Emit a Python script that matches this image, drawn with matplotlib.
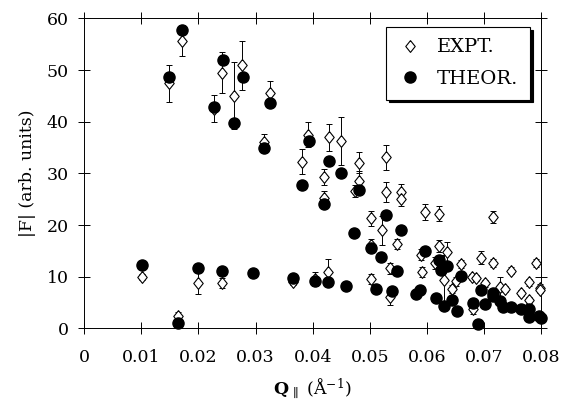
import matplotlib.pyplot as plt
import numpy as np

# experimental points: Q, |F|, error
expt_q = [0.0101, 0.0164, 0.0200, 0.0241, 0.0149, 0.0172, 0.0227, 0.0242, 0.0263, 0.0277,
          0.0315, 0.0326, 0.0366, 0.0382, 0.0392, 0.0404, 0.0420, 0.0420, 0.0427, 0.0428,
          0.0449, 0.0474, 0.0481, 0.0481, 0.0502, 0.0502, 0.0502, 0.0521, 0.0528, 0.0528,
          0.0536, 0.0536, 0.0547, 0.0555, 0.0555, 0.0590, 0.0591, 0.0596, 0.0614, 0.0621,
          0.0621, 0.0629, 0.0635, 0.0644, 0.0650, 0.0659, 0.0678, 0.0680, 0.0686, 0.0694,
          0.0702, 0.0715, 0.0715, 0.0727, 0.0736, 0.0746, 0.0765, 0.0778, 0.0778, 0.0791,
          0.0798, 0.0798]
expt_f = [10.0, 2.4, 8.8, 8.8, 47.4, 55.7, 42.5, 49.5, 45.0, 50.9,
          36.0, 45.6, 8.9, 32.3, 37.5, 9.6, 29.3, 25.3, 10.9, 37.0,
          36.3, 26.6, 32.1, 28.6, 21.3, 16.2, 9.6, 19.0, 33.1, 26.4,
          11.6, 6.1, 16.4, 26.4, 25.1, 14.3, 10.9, 22.5, 12.7, 22.2,
          16.0, 9.3, 14.7, 7.6, 9.1, 12.5, 10.0, 3.7, 9.8, 13.7,
          8.7, 21.6, 12.7, 8.0, 7.6, 11.2, 6.8, 8.9, 5.5, 12.7,
          7.8, 7.4]
expt_err = [0.6, 0.8, 2.2, 1.0, 3.6, 3.0, 2.6, 4.0, 6.5, 4.7,
            1.7, 2.3, 0.5, 2.4, 2.4, 1.4, 1.5, 1.2, 2.5, 2.6,
            4.6, 1.2, 2.0, 1.8, 1.5, 1.2, 1.0, 2.8, 2.4, 2.0,
            1.0, 1.5, 1.0, 1.5, 1.5, 1.0, 1.0, 1.5, 1.2, 1.5,
            1.2, 5.0, 2.0, 0.8, 0.8, 0.8, 0.6, 1.0, 0.6, 1.2,
            0.6, 1.2, 0.8, 2.0, 0.6, 0.6, 0.6, 0.6, 0.6, 0.8,
            0.8, 0.6]

# theory points
theor_q = [0.0101, 0.0164, 0.0200, 0.0241, 0.0296, 0.0149, 0.0172, 0.0227, 0.0243, 0.0263,
           0.0278, 0.0315, 0.0326, 0.0366, 0.0382, 0.0393, 0.0404, 0.0420, 0.0427, 0.0428,
           0.0449, 0.0459, 0.0473, 0.0481, 0.0502, 0.0510, 0.0520, 0.0528, 0.0538, 0.0548,
           0.0555, 0.0581, 0.0587, 0.0596, 0.0616, 0.0621, 0.0624, 0.0629, 0.0635, 0.0644,
           0.0653, 0.0659, 0.0680, 0.0689, 0.0694, 0.0702, 0.0715, 0.0716, 0.0727, 0.0733,
           0.0746, 0.0765, 0.0779, 0.0778, 0.0796, 0.0800]
theor_f = [12.2, 1.1, 11.6, 11.2, 10.7, 48.7, 57.7, 42.8, 52.0, 39.8,
           48.7, 34.9, 43.7, 9.8, 27.8, 36.3, 9.2, 24.0, 8.9, 32.4,
           30.1, 8.3, 18.4, 26.8, 15.5, 7.6, 13.8, 21.9, 7.2, 11.2,
           19.0, 6.7, 7.4, 14.9, 5.9, 13.3, 11.4, 4.4, 12.0, 5.5,
           3.3, 10.1, 5.0, 0.9, 7.5, 4.7, 6.8, 6.2, 5.4, 4.2,
           4.2, 3.8, 3.7, 2.3, 2.4, 2.0]

plt.rcParams['font.family'] = 'DejaVu Serif'
plt.rcParams['mathtext.fontset'] = 'dejavuserif'

fig = plt.figure(figsize=(5.61, 4.08), dpi=100)
ax = fig.add_axes([0.150, 0.195, 0.815, 0.760])

rombo = [(0, 1), (0.8, 0), (0, -1), (-0.8, 0), (0, 1)]  # diamond, a bit wider than 'd'

ax.errorbar(expt_q, expt_f, yerr=expt_err, fmt='none', ecolor='black',
            elinewidth=0.7, capsize=2.2, capthick=0.7, clip_on=False, zorder=2)
ax.plot(expt_q, expt_f, linestyle='none', marker=rombo, mfc='white', mec='black',
        mew=0.8, ms=8.5, clip_on=False, zorder=3, label='EXPT.')
ax.plot(theor_q, theor_f, 'o', color='black', ms=8,
        clip_on=False, zorder=4, label='THEOR.')

ax.set_xlim(0, 0.08)
ax.set_ylim(0, 60)
ax.set_xticks(np.arange(0, 0.081, 0.01))
ax.set_xticklabels(['0', '0.01', '0.02', '0.03', '0.04', '0.05', '0.06', '0.07', '0.08'])
ax.set_yticks(np.arange(0, 61, 10))
ax.tick_params(direction='inout', length=8, width=0.7, top=True, right=True,
               labelsize=12.5)
ax.tick_params(axis='x', pad=11)
ax.tick_params(axis='y', pad=7)
for s in ax.spines.values():
    s.set_linewidth(0.7)

ax.set_xlabel(r'$\mathbf{Q}_{\,\parallel}$ (Å$^{-1}$)', fontsize=12.5, labelpad=8)
ax.set_ylabel('|F| (arb. units)', fontsize=12.5, labelpad=8)

leg = ax.legend(loc='upper right', bbox_to_anchor=(0.975, 0.973), borderaxespad=0,
                fontsize=14, frameon=True, fancybox=False,
                shadow={'color': 'black', 'alpha': 1.0}, edgecolor='black',
                handletextpad=0.8, borderpad=0.6, labelspacing=0.7, handlelength=1.2)
leg.get_frame().set_linewidth(0.8)

plt.savefig('out.png', dpi=100)
